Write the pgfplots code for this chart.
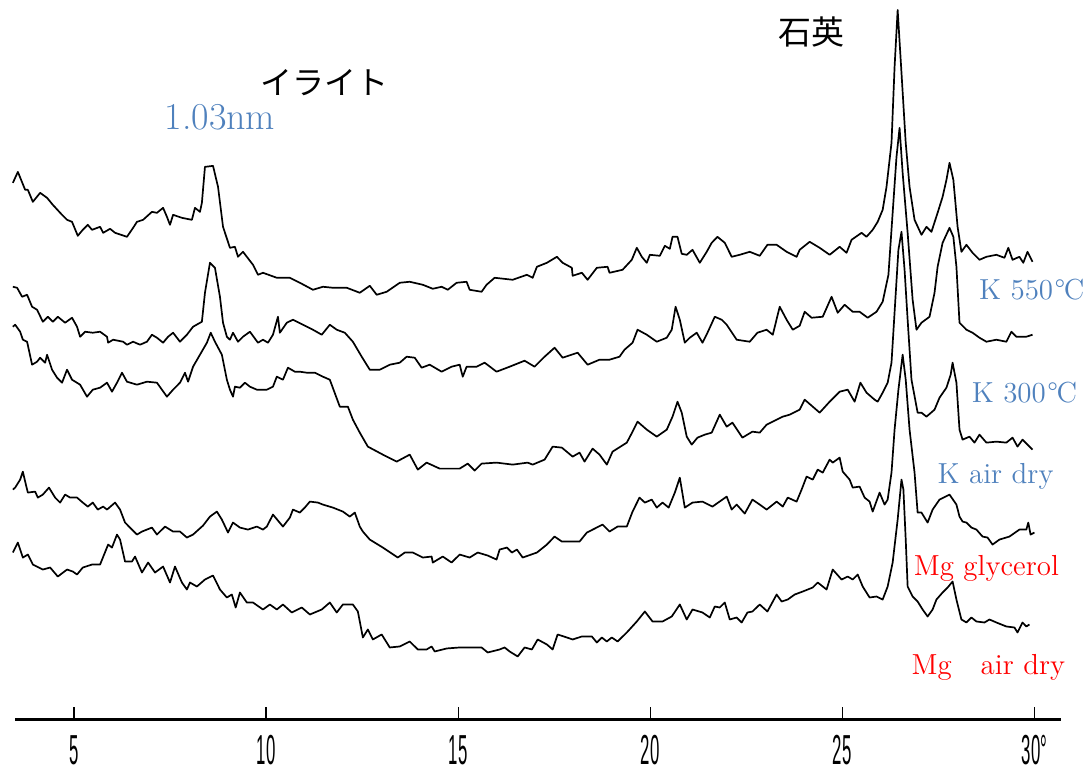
\documentclass[border=0pt]{standalone}
\usepackage{fontspec}
\usepackage{graphicx}
\usepackage{pgfplots}
\pgfplotsset{compat=1.18}
\newfontfamily\jp{Noto Sans CJK JP}
\newfontfamily\ticksf{Liberation Sans}
\definecolor{kblue}{RGB}{79,129,189}
\definecolor{mgred}{RGB}{255,0,0}
% narrow, tall tick numbers
\newcommand{\tl}[1]{\scalebox{0.4}[1]{\ticksf\fontsize{21}{21}\selectfont #1}}
\newcommand{\dc}{\kern0.05em\textdegree\kern-0.05em C}
\pgfplotsset{trace/.style={black, line width=0.85pt, line join=round, no markers}}
\begin{document}
\begin{tikzpicture}
\begin{axis}[
  scale only axis, width=523.5pt, height=360pt,
  xmin=3.47, xmax=30.7, ymin=0, ymax=720,
  axis x line=bottom, axis y line=none,
  x axis line style={-, line width=1.2pt},
  xtick={5,10,15,20,25,30},
  xticklabels={\tl{5},\tl{10},\tl{15},\tl{20},\tl{25},\tl{30°}},
  tick align=inside, major tick length=6pt,
  xtick style={line width=0.6pt, black},
  xticklabel style={anchor=center, yshift=-15.5pt},
  clip=false,
]
\path (axis cs:3.075,-53) rectangle (axis cs:31.457,720);

% K 550 C
\addplot[trace] table {
3.41 537
3.54 548
3.73 530
3.80 530
3.93 518
4.12 527
4.30 522
4.45 515
4.69 505
4.82 500
4.95 498
5.10 484
5.23 490
5.36 495
5.47 490
5.68 493
5.76 487
5.94 491
6.07 487
6.38 483
6.54 492
6.64 498
6.80 500
7.03 508
7.16 507
7.32 512
7.42 503
7.50 495
7.58 505
7.81 502
8.07 500
8.15 512
8.28 508
8.33 517
8.41 553
8.62 554
8.75 533
8.88 493
9.06 472
9.19 473
9.27 463
9.40 468
9.66 455
9.79 445
9.92 447
10.28 442
10.62 442
10.88 437
11.22 430
11.48 433
11.74 432
12.10 432
12.44 427
12.70 434
12.88 425
13.14 428
13.48 437
13.74 438
14.08 435
14.34 431
14.57 433
14.73 430
14.96 437
15.22 438
15.30 430
15.61 428
15.74 435
15.95 442
16.42 440
16.79 445
16.94 442
17.05 453
17.31 457
17.57 463
17.72 457
17.96 452
17.98 444
18.22 447
18.37 440
18.61 452
18.89 453
18.94 447
19.28 450
19.52 460
19.65 472
19.78 463
19.91 457
19.99 465
20.25 464
20.38 474
20.51 471
20.58 483
20.71 483
20.82 466
20.95 465
21.10 470
21.29 457
21.47 468
21.60 477
21.75 483
21.94 477
22.12 463
22.33 465
22.59 468
22.85 464
23.05 475
23.29 475
23.55 468
23.81 463
23.89 470
24.15 478
24.41 472
24.67 465
24.93 473
25.11 467
25.24 480
25.50 487
25.63 483
25.79 490
25.92 498
26.05 510
26.15 533
26.28 577
26.36 653
26.44 710
26.54 647
26.65 577
26.75 533
26.88 500
27.06 485
27.19 493
27.32 488
27.48 507
27.61 523
27.71 540
27.79 557
27.89 540
28.00 493
28.10 468
28.23 475
28.39 467
28.57 460
28.75 463
29.01 465
29.22 462
29.32 472
29.43 460
29.61 463
29.71 457
29.82 468
29.95 458
};

% K 300 C
\addplot[trace] table {
3.41 433
3.52 432
3.65 423
3.78 425
3.91 413
4.04 410
4.19 398
4.32 403
4.45 398
4.58 403
4.77 397
4.95 402
5.08 393
5.16 383
5.29 388
5.49 387
5.68 388
5.86 383
5.89 377
6.02 380
6.28 378
6.38 375
6.54 378
6.72 375
6.90 378
7.03 385
7.16 382
7.32 377
7.45 383
7.58 387
7.76 378
7.94 385
8.10 393
8.33 398
8.41 427
8.54 457
8.67 452
8.80 423
8.88 397
8.98 383
9.06 380
9.14 387
9.27 378
9.40 383
9.58 388
9.79 377
9.92 380
10.05 377
10.18 385
10.31 403
10.36 387
10.54 397
10.70 400
10.96 395
11.22 390
11.45 385
11.66 395
11.84 390
12.05 387
12.26 378
12.49 363
12.70 350
12.96 350
13.22 355
13.48 357
13.66 363
13.87 362
14.05 352
14.26 355
14.57 348
14.83 353
15.04 355
15.12 343
15.22 353
15.48 353
15.69 357
16.00 348
16.34 353
16.73 359
16.99 353
17.25 363
17.51 372
17.72 362
18.11 367
18.37 355
18.68 360
18.94 360
19.20 363
19.33 370
19.54 377
19.67 390
19.91 385
20.17 378
20.43 382
20.56 390
20.66 413
20.77 400
20.90 377
21.03 382
21.21 387
21.36 377
21.49 387
21.68 403
21.86 400
21.99 395
22.25 380
22.59 378
22.79 387
23.03 390
23.19 385
23.37 413
23.55 400
23.71 390
23.89 394
24.02 408
24.20 402
24.49 403
24.72 423
24.88 407
25.06 415
25.27 408
25.45 408
25.66 402
25.89 408
26.05 418
26.20 445
26.31 507
26.41 563
26.49 592
26.57 547
26.70 487
26.83 420
26.93 390
27.06 397
27.27 403
27.40 427
27.48 453
27.61 477
27.79 492
27.89 483
27.97 453
28.05 397
28.23 390
28.39 387
28.57 382
28.75 378
29.01 380
29.27 378
29.40 388
29.53 383
29.79 383
29.95 385
};

% K air dry
\addplot[trace] table {
3.41 393
3.47 395
3.60 388
3.67 380
3.78 378
3.91 355
4.04 358
4.12 362
4.25 357
4.30 365
4.43 350
4.56 342
4.69 337
4.82 350
4.95 340
5.16 335
5.34 323
5.49 330
5.68 332
5.86 337
5.99 328
6.12 337
6.25 347
6.38 338
6.64 335
6.90 338
7.16 337
7.42 323
7.58 330
7.76 337
7.89 347
7.97 338
8.10 353
8.28 365
8.46 377
8.56 387
8.67 378
8.85 365
8.98 340
9.06 330
9.14 323
9.19 333
9.32 332
9.45 337
9.58 333
9.76 330
10.02 330
10.18 333
10.28 343
10.44 340
10.57 352
10.75 348
10.88 348
11.06 347
11.27 347
11.48 343
11.66 340
11.92 313
12.13 313
12.26 300
12.44 287
12.65 273
13.04 265
13.40 258
13.74 265
13.95 250
14.18 257
14.52 251
15.04 251
15.25 256
15.43 249
15.61 256
16.00 257
16.42 255
16.81 257
16.94 255
17.25 260
17.46 273
17.70 272
17.98 263
18.16 267
18.29 258
18.50 271
18.68 265
18.87 255
19.02 268
19.39 277
19.54 288
19.67 298
19.91 290
20.17 283
20.43 290
20.58 303
20.71 318
20.82 307
20.95 283
21.08 275
21.23 282
21.42 285
21.60 287
21.81 305
21.99 293
22.14 297
22.40 282
22.66 288
22.85 287
23.03 295
23.29 300
23.45 303
23.63 305
23.89 310
24.02 320
24.23 313
24.41 307
24.67 318
24.93 328
25.14 330
25.32 318
25.47 337
25.63 327
25.84 320
25.92 318
26.05 327
26.18 337
26.28 357
26.38 420
26.46 470
26.54 488
26.62 450
26.70 400
26.80 340
26.96 307
27.06 307
27.19 303
27.40 310
27.53 322
27.71 332
27.82 345
27.87 357
27.97 337
28.05 290
28.13 280
28.31 283
28.44 277
28.57 285
28.75 277
29.01 278
29.27 277
29.43 282
29.56 273
29.69 280
29.82 275
29.95 270
};

% Mg glycerol
\addplot[trace] table {
3.41 230
3.47 232
3.60 240
3.67 248
3.73 238
3.80 227
3.99 228
4.06 222
4.19 225
4.35 232
4.51 222
4.64 217
4.77 225
4.90 222
5.08 222
5.23 217
5.36 213
5.49 217
5.62 210
5.76 213
5.86 210
6.07 217
6.20 210
6.33 197
6.51 190
6.64 185
6.77 188
7.03 192
7.16 185
7.37 193
7.58 188
7.76 188
7.94 182
8.10 185
8.36 194
8.54 203
8.72 208
8.85 200
9.01 187
9.14 197
9.32 192
9.53 190
9.76 193
9.92 190
10.02 193
10.18 205
10.44 193
10.62 202
10.70 210
10.88 207
11.01 212
11.14 218
11.35 217
11.48 215
11.74 212
12.00 208
12.18 203
12.31 207
12.44 193
12.52 188
12.70 180
13.04 172
13.43 162
13.61 167
13.82 167
14.08 162
14.31 163
14.34 157
14.60 163
14.83 157
15.04 165
15.30 162
15.51 167
15.77 164
16.00 160
16.08 170
16.27 172
16.40 167
16.53 170
16.68 162
17.05 167
17.31 175
17.51 183
17.70 178
18.16 178
18.35 187
18.76 195
18.94 188
19.15 193
19.39 193
19.54 208
19.72 222
19.86 217
20.04 220
20.17 212
20.32 217
20.48 212
20.64 227
20.77 242
20.90 212
21.10 217
21.36 218
21.62 213
21.99 223
22.12 210
22.25 215
22.46 206
22.66 220
22.85 215
23.03 210
23.29 218
23.45 213
23.58 222
23.81 218
23.94 230
24.07 243
24.23 240
24.36 250
24.49 247
24.67 260
24.75 257
24.93 262
25.01 248
25.19 240
25.27 232
25.45 233
25.58 222
25.71 218
25.79 208
25.97 227
26.10 215
26.18 220
26.28 247
26.36 290
26.46 330
26.57 365
26.65 340
26.75 290
26.88 247
26.96 207
27.06 207
27.22 197
27.35 210
27.53 220
27.79 225
27.97 215
28.05 203
28.13 198
28.23 197
28.36 192
28.49 190
28.65 183
28.78 182
28.91 175
29.09 180
29.35 183
29.61 190
29.79 190
29.84 197
29.90 185
30.00 187
};

% Mg air dry
\addplot[trace] table {
3.41 167
3.54 177
3.67 162
3.80 165
3.93 155
4.19 150
4.38 152
4.58 143
4.82 150
4.97 148
5.08 145
5.23 152
5.47 155
5.68 155
5.89 175
5.99 172
6.12 185
6.20 180
6.33 158
6.51 158
6.59 163
6.77 147
6.93 157
7.11 147
7.32 153
7.50 137
7.63 153
7.81 137
7.94 130
8.02 137
8.20 133
8.41 140
8.62 144
8.80 130
8.98 122
9.11 125
9.21 112
9.32 127
9.50 117
9.66 117
9.92 110
10.10 115
10.28 110
10.44 115
10.67 107
10.93 112
11.14 105
11.45 110
11.66 117
11.84 107
12.00 115
12.26 115
12.39 108
12.52 82
12.65 90
12.78 80
13.01 85
13.22 72
13.48 73
13.74 78
13.95 70
14.18 70
14.31 73
14.39 68
14.70 71
15.04 72
15.61 72
15.77 67
16.08 70
16.21 72
16.34 68
16.55 63
16.73 72
16.92 70
17.07 80
17.31 75
17.46 70
17.59 85
17.83 82
17.98 80
18.22 83
18.48 83
18.61 77
18.74 82
18.87 78
19.00 82
19.15 78
19.39 87
19.65 98
19.86 108
20.06 98
20.32 98
20.56 103
20.77 115
20.95 100
21.10 110
21.36 107
21.55 102
21.68 113
21.81 112
21.94 117
22.07 100
22.25 102
22.38 97
22.53 107
22.66 108
22.85 115
23.05 108
23.29 125
23.42 118
23.58 120
23.76 125
23.97 128
24.23 132
24.36 137
24.59 130
24.75 150
24.98 140
25.14 143
25.27 140
25.40 145
25.53 133
25.71 122
25.89 123
26.05 120
26.18 133
26.31 157
26.44 200
26.54 240
26.59 230
26.65 180
26.70 133
26.83 123
26.96 118
27.09 110
27.22 103
27.35 110
27.45 120
27.61 127
27.74 132
27.87 138
27.97 120
28.10 100
28.23 97
28.36 102
28.49 98
28.70 97
28.83 100
29.01 97
29.27 93
29.48 92
29.56 87
29.69 97
29.79 93
29.87 95
};

% peak names and sample labels
\node[font={\jp\fontsize{16}{19}\selectfont}] at (axis cs:11.53,637) {イライト};
\node[font={\jp\fontsize{16.5}{19}\selectfont}] at (axis cs:24.2,688) {石英};
\node[font={\fontsize{19}{22}\selectfont}, text=kblue] at (axis cs:8.80,603) {1.03nm};
\node[font={\fontsize{14.5}{17}\selectfont}, text=kblue] at (axis cs:29.93,430) {K 550\dc};
\node[font={\fontsize{14.5}{17}\selectfont}, text=kblue] at (axis cs:29.74,327) {K 300\dc};
\node[font={\fontsize{14.5}{17}\selectfont}, text=kblue] at (axis cs:28.99,243) {K air dry};
\node[font={\fontsize{14.5}{17}\selectfont}, text=mgred] at (axis cs:28.75,151) {Mg glycerol};
\node[font={\fontsize{14.5}{17}\selectfont}, text=mgred] at (axis cs:28.80,52) {Mg\hspace{1em}air dry};
\end{axis}
\end{tikzpicture}
\end{document}
